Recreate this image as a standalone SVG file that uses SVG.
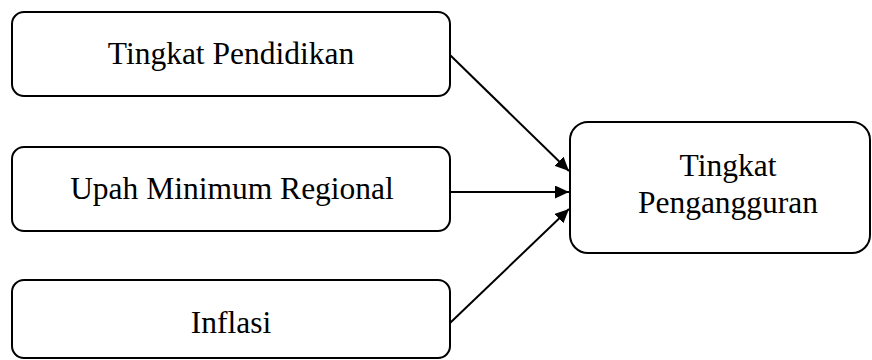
<svg xmlns="http://www.w3.org/2000/svg" width="872" height="360" viewBox="0 0 872 360">
<style>
.box{fill:#fff;stroke:#000;stroke-width:2}
.t{font-family:'Liberation Serif','Times New Roman',serif;font-size:31.5px;fill:#000;text-anchor:middle}
.c{stroke:#000;stroke-width:2;fill:none}
</style>
<defs>
<marker id="ah" markerWidth="7" markerHeight="6.5" refX="7" refY="3.25" orient="auto" markerUnits="strokeWidth">
<path d="M0,0 L7,3.25 L0,6.5 Z" fill="#000"/>
</marker>
</defs>
<rect width="872" height="360" fill="#fff"/>
<g id="n1"><rect class="box" x="12" y="12" width="438" height="84" rx="12"/><text class="t" x="231" y="64">Tingkat Pendidikan</text></g>
<g id="n2"><rect class="box" x="12" y="147" width="438" height="84" rx="12"/><text class="t" x="232" y="199">Upah Minimum Regional</text></g>
<g id="n3"><rect class="box" x="12" y="280" width="438" height="78" rx="12"/><text class="t" x="231" y="333">Inflasi</text></g>
<g id="n4"><rect class="box" x="570" y="122" width="300" height="131" rx="18"/><text class="t" x="728" y="176">Tingkat</text><text class="t" x="728" y="213">Pengangguran</text></g>
<g id="connectors">
<line class="c" x1="450" y1="55" x2="569" y2="171" marker-end="url(#ah)"/>
<line class="c" x1="450" y1="192" x2="569" y2="192" marker-end="url(#ah)"/>
<line class="c" x1="450" y1="323" x2="569" y2="209" marker-end="url(#ah)"/>
</g>
</svg>
